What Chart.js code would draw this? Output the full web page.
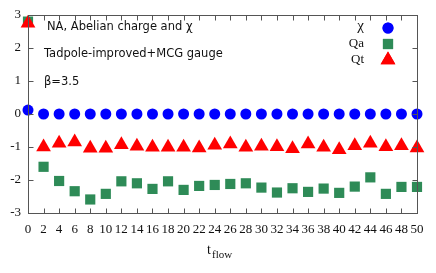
<!DOCTYPE html>
<html>
<head>
<meta charset="utf-8">
<script src="https://cdn.jsdelivr.net/npm/chart.js@4.4.0/dist/chart.umd.min.js"></script>
<style>
  html, body { margin: 0; padding: 0; background: #fff; }
  #wrap { width: 436px; height: 273px; }
</style>
</head>
<body>
<div id="wrap"><canvas id="c"></canvas></div>
<script>
// data
const tFlow = [0, 2, 4, 6, 8, 10, 12, 14, 16, 18, 20, 22, 24, 26, 28, 30, 32, 34, 36, 38, 40, 42, 44, 46, 48, 50];
const chi = [0.12, 0, 0, 0, 0, 0, 0, 0, 0, 0, 0, 0, 0, 0, 0, 0, 0, 0, 0, 0, 0, 0, 0, 0, 0, 0];
const qa = [2.8, -1.60, -2.03, -2.34, -2.59, -2.42, -2.04, -2.10, -2.27, -2.04, -2.30, -2.18, -2.15,
            -2.12, -2.10, -2.23, -2.38, -2.25, -2.36, -2.26, -2.39, -2.20, -1.92, -2.42, -2.21, -2.21];
const qt = [2.75, -1.00, -0.89, -0.85, -1.04, -1.04, -0.93, -0.98, -1.01, -1.01, -1.01, -1.03, -0.95,
            -0.91, -1.01, -0.98, -0.99, -1.05, -0.91, -1.01, -1.08, -0.96, -0.89, -0.99, -0.96, -1.03];
const seriesNames = ['χ', 'Qa', 'Qt'];
const notes = ['NA, Abelian charge and χ', 'Tadpole-improved+MCG gauge', 'β=3.5'];

function pts(vals) {
    return tFlow.map((t, i) => ({ x: t, y: vals[i] }));
}

// frame, inward ticks, notes, legend and axis title
const decor = {
    id: 'decor',
    afterDatasetsDraw(chart) {
        const ctx = chart.ctx;
        const a = chart.chartArea;
        const x = chart.scales.x, y = chart.scales.y;
        const L = Math.round(a.left) + 0.5, R = Math.round(a.right) + 0.5;
        const T = Math.round(a.top) + 0.5, B = Math.round(a.bottom) + 0.5;
        ctx.save();
        ctx.strokeStyle = '#555';
        ctx.lineWidth = 1;
        ctx.strokeRect(L, T, R - L, B - T);
        ctx.beginPath();
        x.ticks.forEach(t => {
            const px = Math.round(x.getPixelForValue(t.value)) + 0.5;
            ctx.moveTo(px, B); ctx.lineTo(px, B - 5);
            ctx.moveTo(px, T); ctx.lineTo(px, T + 5);
        });
        y.ticks.forEach(t => {
            const py = Math.round(y.getPixelForValue(t.value)) + 0.5;
            ctx.moveTo(L, py); ctx.lineTo(L + 5, py);
            ctx.moveTo(R, py); ctx.lineTo(R - 5, py);
        });
        ctx.stroke();

        // notes
        ctx.fillStyle = '#111';
        ctx.font = '11.5px "DejaVu Sans"';
        ctx.textBaseline = 'middle';
        ctx.textAlign = 'left';
        ctx.fillText(notes[0], 47, 27);
        ctx.fillText(notes[1], 44, 54);
        ctx.fillText(notes[2], 44, 82);

        // legend
        ctx.textAlign = 'right';
        const rows = [28, 44, 60];
        chart.data.datasets.forEach((ds, i) => {
            ctx.fillStyle = '#111';
            ctx.font = i === 0 ? '15px "Liberation Serif"' : '13px "Liberation Serif"';
            ctx.fillText(seriesNames[i], 364, i === 0 ? rows[i] - 2 : rows[i]);
            ctx.fillStyle = ds.backgroundColor;
            ctx.strokeStyle = ds.borderColor;
            Chart.helpers.drawPoint(ctx, {
                pointStyle: ds.pointStyle, radius: ds.pointRadius, borderWidth: ds.borderWidth, rotation: 0
            }, 388, rows[i]);
            ctx.fill();
        });

        // x title with subscript
        ctx.fillStyle = '#111';
        ctx.textAlign = 'left';
        ctx.textBaseline = 'alphabetic';
        ctx.font = '14px "Liberation Serif"';
        ctx.fillText('t', 207, 254);
        ctx.font = '11px "Liberation Serif"';
        ctx.fillText('flow', 212, 258);
        ctx.restore();
    }
};

new Chart(document.getElementById('c'), {
    type: 'scatter',
    data: {
        datasets: [
            {
                label: seriesNames[0], data: pts(chi), order: 3,
                pointStyle: 'circle', pointRadius: 5.5, pointHoverRadius: 5.5,
                backgroundColor: '#0000ff', borderColor: '#0000ff', borderWidth: 0, clip: false
            },
            {
                label: seriesNames[1], data: pts(qa), order: 2,
                pointStyle: 'rect', pointRadius: 7.2, pointHoverRadius: 7.2,
                backgroundColor: '#2e8b57', borderColor: '#2e8b57', borderWidth: 0, clip: false
            },
            {
                label: seriesNames[2], data: pts(qt), order: 1,
                pointStyle: 'triangle', pointRadius: 8.5, pointHoverRadius: 8.5,
                backgroundColor: '#ff0000', borderColor: '#ff0000', borderWidth: 0, clip: false
            }
        ]
    },
    options: {
        responsive: true,
        maintainAspectRatio: false,
        animation: false,
        layout: { padding: { left: 0, right: 19, top: 15, bottom: 0 } },
        plugins: {
            legend: { display: false },
            tooltip: { enabled: false }
        },
        scales: {
            x: {
                type: 'linear', min: 0, max: 50,
                border: { display: false },
                grid: { display: false, drawTicks: false },
                ticks: {
                    stepSize: 2, autoSkip: false, maxRotation: 0, padding: 9,
                    color: '#111', font: { family: 'Liberation Serif', size: 13 }
                },
                afterFit: s => { s.height = 60; }
            },
            y: {
                type: 'linear', min: -3, max: 3,
                border: { display: false },
                grid: { display: false, drawTicks: false },
                ticks: {
                    stepSize: 1, padding: 7,
                    color: '#111', font: { family: 'Liberation Serif', size: 13 }
                },
                afterFit: s => { s.width = 28; }
            }
        }
    },
    plugins: [decor]
});
</script>
</body>
</html>
